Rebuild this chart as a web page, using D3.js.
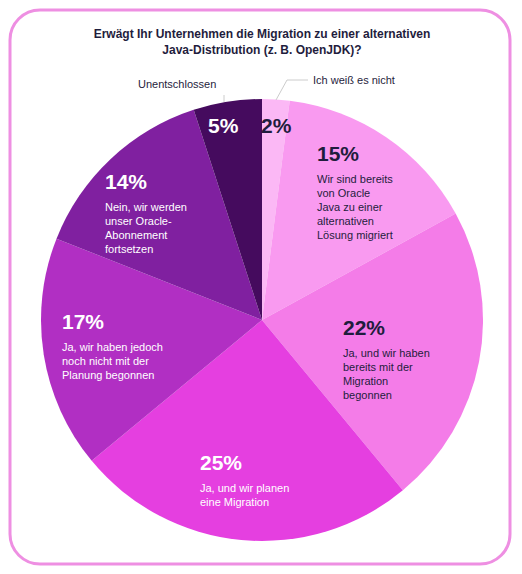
<!DOCTYPE html>
<html><head><meta charset="utf-8">
<script src="https://cdn.jsdelivr.net/npm/d3@7"></script>
<style>body{margin:0;background:#fff}text{font-family:Arial,"Liberation Sans",sans-serif}</style>
</head><body><svg id="chart" width="522" height="574"></svg>
<script>
const categories = ["Ich weiß es nicht", "Wir sind bereits von Oracle Java zu einer alternativen Lösung migriert",
  "Ja, und wir haben bereits mit der Migration begonnen", "Ja, und wir planen eine Migration",
  "Ja, wir haben jedoch noch nicht mit der Planung begonnen", "Nein, wir werden unser Oracle-Abonnement fortsetzen",
  "Unentschlossen"];
const values = [2, 15, 22, 25, 17, 14, 5];
const colors = ["#fbb8f5", "#f99af0", "#f47ce8", "#e53fe0", "#b12fc3", "#8020a0", "#450b5e"];

const svg = d3.select("#chart");
const cx = 262, cy = 320, r = 221;
const dark = "#1f1d3d";

svg.append("rect").attr("x", 10).attr("y", 10).attr("width", 500).attr("height", 554)
  .attr("rx", 30).attr("fill", "none").attr("stroke", "#ee8fe2").attr("stroke-width", 3);

svg.append("text").attr("x", 262).attr("y", 38).attr("text-anchor", "middle")
  .attr("font-size", 12).attr("font-weight", "bold").attr("fill", dark)
  .selectAll("tspan").data(["Erwägt Ihr Unternehmen die Migration zu einer alternativen", "Java-Distribution (z. B. OpenJDK)?"])
  .join("tspan").attr("x", 262).attr("dy", (d, i) => i ? 16 : 0).text(d => d);

const pie = d3.pie().sort(null).value(d => d);
const arc = d3.arc().innerRadius(0).outerRadius(r);
const g = svg.append("g").attr("transform", `translate(${cx},${cy})`);
g.selectAll("path").data(pie(values)).join("path")
  .attr("d", arc).attr("fill", (d, i) => colors[i]);

// leader lines for small slices
svg.append("polyline").attr("points", "276,100 287,80 308,80").attr("fill", "none").attr("stroke", "#ccc");
svg.append("line").attr("x1", 224).attr("y1", 102).attr("x2", 224).attr("y2", 95).attr("stroke", "#ccc");
svg.append("text").attr("x", 313).attr("y", 84).attr("font-size", 11).attr("fill", dark).text(categories[0]);
svg.append("text").attr("x", 138).attr("y", 88).attr("font-size", 11).attr("fill", dark).text(categories[6]);

const labels = [
  {x: 261, y: 133, lines: []},
  {x: 317, y: 161, lines: ["Wir sind bereits", "von Oracle", "Java zu einer", "alternativen", "Lösung migriert"]},
  {x: 343, y: 335, lines: ["Ja, und wir haben", "bereits mit der", "Migration", "begonnen"]},
  {x: 200, y: 470, lines: ["Ja, und wir planen", "eine Migration"]},
  {x: 62, y: 329, lines: ["Ja, wir haben jedoch", "noch nicht mit der", "Planung begonnen"]},
  {x: 105, y: 189, lines: ["Nein, wir werden", "unser Oracle-", "Abonnement", "fortsetzen"]},
  {x: 208, y: 133, lines: []}
];
const light = [true, true, true, false, false, false, false];
labels.forEach((l, i) => {
  const c = light[i] ? dark : "#fff";
  svg.append("text").attr("x", l.x).attr("y", l.y).attr("font-size", 21).attr("font-weight", "bold")
    .attr("fill", c).text(values[i] + "%");
  const t = svg.append("text").attr("font-size", 11).attr("fill", c);
  t.selectAll("tspan").data(l.lines).join("tspan")
    .attr("x", l.x).attr("y", (d, j) => l.y + 22 + j * 14).text(d => d);
});
</script></body></html>
